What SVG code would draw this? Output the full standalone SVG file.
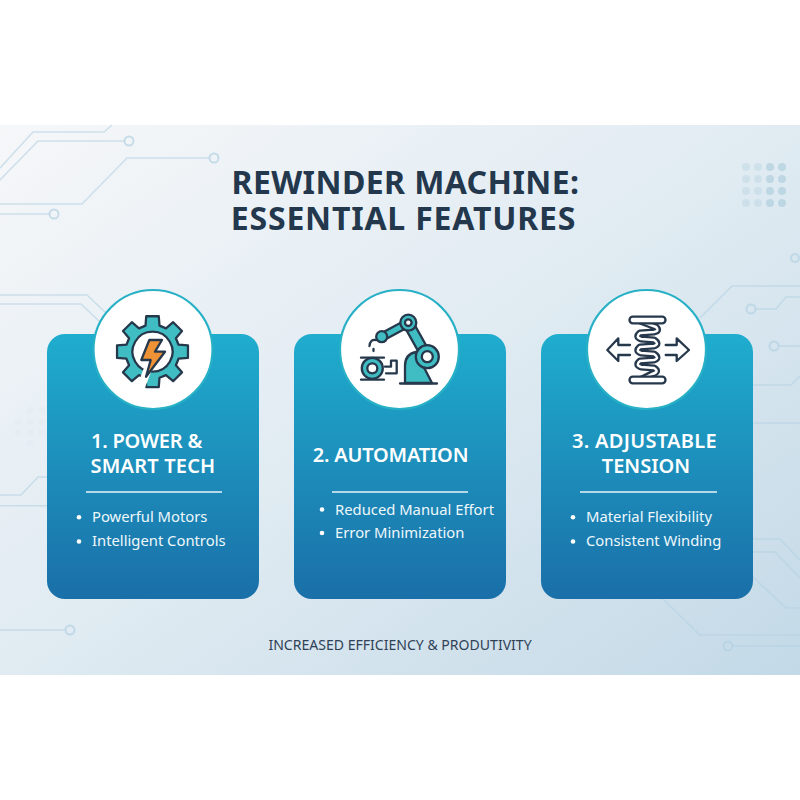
<svg xmlns="http://www.w3.org/2000/svg" width="800" height="800" viewBox="0 0 800 800">
<defs>
<linearGradient id="bg" x1="0" y1="0" x2="1" y2="1"><stop offset="0" stop-color="#f6f7f9"/><stop offset="0.5" stop-color="#e0ebf2"/><stop offset="1" stop-color="#c3d9e7"/></linearGradient>
<linearGradient id="card" x1="0" y1="0" x2="0" y2="1"><stop offset="0" stop-color="#1fadce"/><stop offset="1" stop-color="#1a6fa8"/></linearGradient>
<filter id="soft" x="-20%" y="-20%" width="140%" height="140%"><feGaussianBlur stdDeviation="0.35"/></filter>
</defs>
<style>
text{font-family:"Noto Sans","Liberation Sans",sans-serif}
.title{font-size:32px;font-weight:700;fill:#23374d;text-anchor:middle}
.head{font-size:20px;font-weight:600;fill:#fff;text-anchor:middle}
.item{font-size:14.8px;fill:#eef8fb}
.foot{font-size:14.05px;fill:#2f4156;text-anchor:middle}
.trace{fill:none;stroke:#b4d2e2;stroke-width:1.6;opacity:.6}
.pad{fill:none;stroke:#b4d2e2;stroke-width:2;opacity:.7}
.dot{fill:#fff}
.card{fill:url(#card)}
.disc{fill:#fff;stroke:#27b0c6;stroke-width:2.2}
.rule{stroke:#e9f5f9;stroke-width:1.6}
.ink{stroke:#27384c;stroke-width:2.3;stroke-linejoin:round;stroke-linecap:round}
.teal{fill:#3fbdc3}
.none{fill:none}
</style>
<rect width="800" height="800" fill="#fff"/>
<rect y="125" width="800" height="550" fill="url(#bg)"/>
<g id="connectors">
<path class="trace" d="M0 168L33 132H104L112 125M0 180L38 141H125M0 204H82L127 158H209M0 214H50M0 295H87L106 313M0 304H81L100 322M0 495H21L38 477H47M0 505.700H47"/>
<circle class="pad" cx="129" cy="141" r="4.5"/><circle class="pad" cx="214" cy="158" r="4.5"/><circle class="pad" cx="54" cy="214" r="4.5"/>
<path class="trace" d="M700 318L732 286H800M755 309H776L786 297H800M778 346H800M753 385H791L800 376M753 423H800M663 599L700 635H800M732 646H800M753 539H780L800 560M753 552H775L800 578M753 577L786 608H800M0 630H65"/>
<circle class="pad" cx="795" cy="258" r="4" opacity=".35"/><circle class="pad" cx="751" cy="309" r="4.5"/><circle class="pad" cx="774" cy="346" r="4.5"/><circle class="pad" cx="728" cy="646" r="4.5"/><circle class="pad" cx="70" cy="630" r="4.5"/>
</g>
<g id="dots" fill="#a9cbdb">
<g opacity=".3"><circle cx="746" cy="167" r="4"/><circle cx="746" cy="179" r="4"/><circle cx="746" cy="191" r="4"/><circle cx="746" cy="203" r="4"/><circle cx="758" cy="167" r="4"/><circle cx="758" cy="179" r="4"/><circle cx="758" cy="191" r="4"/><circle cx="758" cy="203" r="4"/></g>
<g opacity=".6"><circle cx="770" cy="167" r="4"/><circle cx="770" cy="179" r="4"/><circle cx="770" cy="191" r="4"/><circle cx="770" cy="203" r="4"/><circle cx="782" cy="167" r="4"/><circle cx="782" cy="179" r="4"/><circle cx="782" cy="191" r="4"/><circle cx="782" cy="203" r="4"/></g>
<g opacity=".05"><circle cx="18" cy="422" r="3.500"/><circle cx="18" cy="432" r="3.500"/><circle cx="30" cy="410" r="3.500"/><circle cx="30" cy="422" r="3.500"/><circle cx="30" cy="432" r="3.500"/><circle cx="30" cy="443" r="3.500"/><circle cx="42" cy="410" r="3.500"/><circle cx="42" cy="422" r="3.500"/><circle cx="42" cy="432" r="3.500"/></g>
</g>
<g id="title"><text class="title" x="405.500" y="193.500" letter-spacing=".4">REWINDER MACHINE:</text><text class="title" x="403.500" y="230" letter-spacing=".8">ESSENTIAL FEATURES</text></g>

<g id="card1">
<rect class="card" x="47" y="334" width="212" height="265" rx="18"/>
<circle class="disc" cx="153" cy="349.5" r="59.5"/>
<g filter="url(#soft)">
<path class="teal ink" fill-rule="evenodd" transform="translate(152.500 351.700)" d="M-6.99-26.08L-6.25-35.45H6.25L6.99-26.08L13.5-23.38L20.65-29.49L29.49-20.65L23.38-13.5L26.08-6.99L35.45-6.25V6.25L26.08 6.99L23.38 13.5L29.49 20.65L20.65 29.49L13.5 23.38L6.99 26.08L6.25 35.45H-6.25L-6.99 26.08L-13.5 23.38L-20.65 29.49L-29.49 20.65L-23.38 13.5L-26.08 6.99L-35.45 6.25V-6.25L-26.08-6.99L-23.38-13.5L-29.49-20.65L-20.65-29.49L-13.5-23.38ZM0-20A20 20 0 1 0 .01-20Z"/>
<path d="M149 366L139 392" stroke="#fff" stroke-width="8" fill="none"/>
<path class="ink" fill="#ee9234" d="M149.3 340H162L155 351.7H165L146 376.7L150.7 360H141.3Z"/>
</g>
<text class="head" x="146.500" y="447.500" letter-spacing="-.2">1. POWER &amp;</text><text class="head" x="153" y="472.700" letter-spacing=".2">SMART TECH</text>
<line class="rule" x1="86" y1="492" x2="222" y2="492"/>
<circle class="dot" cx="79" cy="517.300" r="2.300"/><text class="item" x="92" y="522">Powerful Motors</text>
<circle class="dot" cx="79" cy="541.500" r="2.300"/><text class="item" x="92" y="546">Intelligent Controls</text>
</g>

<g id="card2">
<rect class="card" x="294" y="334" width="212" height="265" rx="18"/>
<circle class="disc" cx="399.5" cy="349.5" r="59.5"/>
<g filter="url(#soft)">
<path class="teal ink" d="M405 383V366Q405 354 416 352L432 383Z"/>
<path class="ink" fill="none" d="M400 383.500H437"/>
<path d="M427 357L408 323" stroke="#27384c" stroke-width="12" stroke-linecap="round"/><path d="M427 357L408 323" stroke="#3fbdc3" stroke-width="7.500" stroke-linecap="round"/>
<path d="M408 323L382 337" stroke="#27384c" stroke-width="9.500" stroke-linecap="round"/><path d="M408 323L382 337" stroke="#3fbdc3" stroke-width="5" stroke-linecap="round"/>
<circle class="teal ink" cx="427.300" cy="356.700" r="11.500"/><circle class="ink" fill="#fff" cx="427.300" cy="356.700" r="5.500"/>
<circle class="teal ink" cx="408.300" cy="322.700" r="8"/><circle class="ink" fill="#fff" cx="408.300" cy="322.700" r="3.300"/>
<circle class="teal ink" cx="381.700" cy="336.700" r="5.500"/>
<path class="ink none" d="M376 340Q370 339 369.500 346"/><path class="ink none" d="M373.500 349V351"/>
<path class="ink none" d="M361 357.700H384M361 379.700H384"/>
<circle class="teal ink" cx="372.300" cy="368.300" r="10.500"/><circle class="ink" fill="#fff" cx="372.300" cy="368.300" r="5"/>
<path class="ink none" d="M385 366.700H391V360.700H396.700V373.300H386"/>
</g>
<text class="head" x="390.500" y="462" letter-spacing="-.2">2. AUTOMATION</text>
<line class="rule" x1="332" y1="492" x2="468" y2="492"/>
<circle class="dot" cx="322" cy="509.500" r="2.300"/><text class="item" x="335" y="515">Reduced Manual Effort</text>
<circle class="dot" cx="322" cy="533" r="2.300"/><text class="item" x="335" y="538">Error Minimization</text>
</g>

<g id="card3">
<rect class="card" x="541" y="334" width="212" height="265" rx="18"/>
<circle class="disc" cx="646.500" cy="349.500" r="59.500"/>
<g filter="url(#soft)" fill="none">
<path stroke="#27384c" stroke-width="7" stroke-linecap="round" stroke-linejoin="round" d="M640 321L656 327Q660 331 654 332L640 333Q635 337 641 339L654 340Q660 344 654 346L640 347Q635 351 641 353L654 354Q660 358 654 360L640 361Q635 365 641 367L654 368Q660 372 652 374L640 380"/>
<path stroke="#fff" stroke-width="2.500" stroke-linecap="round" stroke-linejoin="round" d="M640 321L656 327Q660 331 654 332L640 333Q635 337 641 339L654 340Q660 344 654 346L640 347Q635 351 641 353L654 354Q660 358 654 360L640 361Q635 365 641 367L654 368Q660 372 652 374L640 380"/>
<rect class="ink" fill="#fff" x="629.500" y="316.700" width="36" height="6.600" rx="3.300"/>
<rect class="ink" fill="#fff" x="629.500" y="376.700" width="36" height="6.600" rx="3.300"/>
<path class="ink" d="M630 345H618.300V338.300L607.300 350L618.300 361V355H630M665.700 345H676.700V338.300L689 350L676.700 361V355H665.700"/>
</g>
<text class="head" x="644.500" y="447.500" letter-spacing=".3">3. ADJUSTABLE</text><text class="head" x="646" y="472.700">TENSION</text>
<line class="rule" x1="580" y1="492" x2="717" y2="492"/>
<circle class="dot" cx="573" cy="517.300" r="2.300"/><text class="item" x="586" y="522">Material Flexibility</text>
<circle class="dot" cx="573" cy="541.500" r="2.300"/><text class="item" x="586" y="546">Consistent Winding</text>
</g>
<text class="foot" x="400" y="650">INCREASED EFFICIENCY &amp; PRODUTIVITY</text>
</svg>
